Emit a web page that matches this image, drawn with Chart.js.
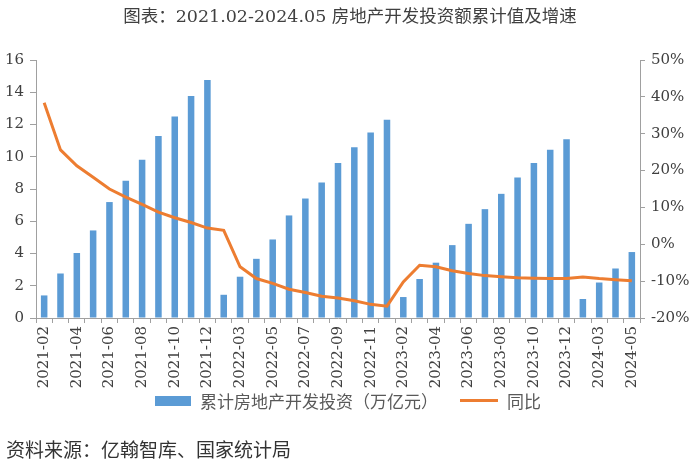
<!DOCTYPE html>
<html>
<head>
<meta charset="utf-8">
<script src="https://cdn.jsdelivr.net/npm/chart.js@4.4.1/dist/chart.umd.min.js"></script>
<style>
  html, body { margin: 0; padding: 0; background: #fff; }
  #wrap { position: relative; width: 700px; height: 469px; overflow: hidden; }
  #c { position: absolute; left: 0; top: 0; }
  .txt { position: absolute; white-space: nowrap; font-family: "DejaVu Serif", "Noto Sans CJK SC", serif; color: #404040; }
  #title { left: 0; width: 700px; text-align: center; top: 2px; font-size: 17.5px; }
  #source { left: 6px; top: 435px; font-size: 19px; font-family: "Noto Sans CJK SC", sans-serif; color: #333; }
  #legend { left: 155px; top: 388px; font-size: 17px; font-family: "Noto Sans CJK SC", sans-serif; color: #595959; display: flex; align-items: center; }
  .sw-bar { display: inline-block; width: 36px; height: 10px; background: #5B9BD5; margin-right: 9px; }
  .sw-line { display: inline-block; width: 38px; height: 3px; background: #ED7D31; margin: 0 9px 0 22px; }
</style>
</head>
<body>
<div id="wrap">
  <canvas id="c" width="700" height="469"></canvas>
  <div id="title" class="txt">图表：2021.02-2024.05 房地产开发投资额累计值及增速</div>
  <div id="legend" class="txt"><span class="sw-bar"></span><span>累计房地产开发投资（万亿元）</span><span class="sw-line"></span><span>同比</span></div>
  <div id="source" class="txt">资料来源：亿翰智库、国家统计局</div>
</div>
<script>
const categories = [
  "2021-02","2021-03","2021-04","2021-05","2021-06","2021-07","2021-08","2021-09","2021-10","2021-11","2021-12",
  "2022-02","2022-03","2022-04","2022-05","2022-06","2022-07","2022-08","2022-09","2022-10","2022-11","2022-12",
  "2023-02","2023-03","2023-04","2023-05","2023-06","2023-07","2023-08","2023-09","2023-10","2023-11","2023-12",
  "2024-02","2024-03","2024-04","2024-05"
];
const investment = [
  1.40, 2.76, 4.03, 5.43, 7.19, 8.51, 9.81, 11.28, 12.49, 13.77, 14.76,
  1.44, 2.56, 3.67, 4.87, 6.36, 7.41, 8.40, 9.62, 10.59, 11.50, 12.29,
  1.30, 2.42, 3.43, 4.52, 5.84, 6.75, 7.70, 8.71, 9.62, 10.43, 11.09,
  1.18, 2.20, 3.07, 4.09
];
const yoyGrowth = [
  38.4, 25.6, 21.3, 18.2, 15.0, 12.8, 10.8, 8.7, 7.2, 5.9, 4.4,
  3.8, -6.1, -9.3, -10.6, -12.2, -13.1, -14.1, -14.6, -15.3, -16.3, -16.8,
  -10.2, -5.7, -6.1, -7.2, -7.9, -8.5, -8.8, -9.1, -9.2, -9.3, -9.3,
  -8.9, -9.3, -9.6, -9.9
];
const leftTicks = { min: 0, max: 16, step: 2 };
const rightTicks = { min: -20, max: 50, step: 10 };

const tickFont = { family: "DejaVu Serif", size: 15 };
const axisColor = "#a0a0a0";
const labelColor = "#404040";

new Chart(document.getElementById("c"), {
  data: {
    labels: categories,
    datasets: [
      {
        type: "line", label: "同比", data: yoyGrowth, yAxisID: "y1",
        borderColor: "#ED7D31", backgroundColor: "#ED7D31", borderWidth: 3,
        pointRadius: 0, tension: 0, order: 0
      },
      {
        type: "bar", label: "累计房地产开发投资（万亿元）", data: investment, yAxisID: "y",
        backgroundColor: "#5B9BD5", barPercentage: 0.4, categoryPercentage: 1.0, order: 1
      }
    ]
  },
  options: {
    responsive: false, animation: false,
    layout: { padding: { top: 60, left: 0, right: 0, bottom: 0 } },
    plugins: { legend: { display: false }, tooltip: { enabled: false } },
    scales: {
      x: {
        offset: true,
        afterFit: s => { s.height = 151; },
        border: { color: axisColor, width: 1 },
        grid: { drawOnChartArea: false, offset: true, tickLength: 5, color: axisColor },
        ticks: {
          autoSkip: false, minRotation: 90, maxRotation: 90, padding: 3,
          font: tickFont, color: labelColor,
          callback: function(v, i) { return i % 2 === 0 ? this.getLabelForValue(v) : ""; }
        }
      },
      y: {
        position: "left", min: leftTicks.min, max: leftTicks.max,
        afterFit: s => { s.width = 36; },
        border: { color: axisColor, width: 1 },
        grid: { drawOnChartArea: false, tickLength: 6, color: axisColor },
        ticks: { stepSize: leftTicks.step, font: tickFont, color: labelColor, padding: 6 }
      },
      y1: {
        position: "right", min: rightTicks.min, max: rightTicks.max,
        afterFit: s => { s.width = 60; },
        border: { color: axisColor, width: 1 },
        grid: { drawOnChartArea: false, tickLength: 5, color: axisColor },
        ticks: { stepSize: rightTicks.step, font: tickFont, color: labelColor, padding: 6,
                 callback: v => v + "%" }
      }
    }
  }
});
</script>
</body>
</html>
